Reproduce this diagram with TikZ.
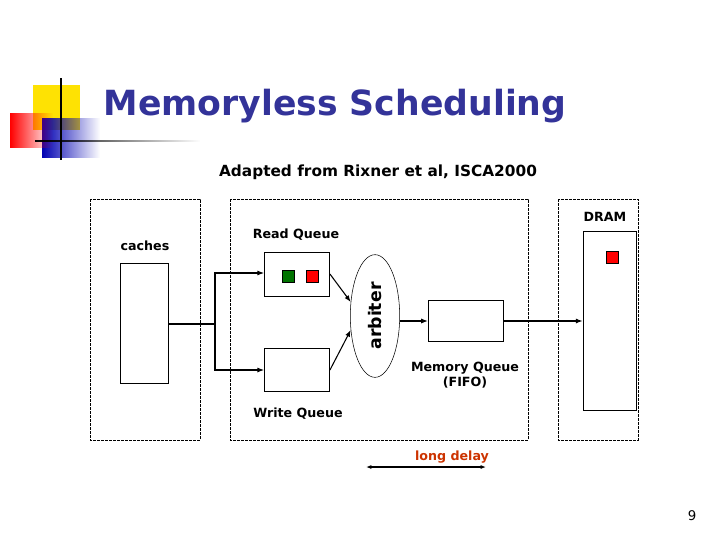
\documentclass[tikz,border=0pt]{standalone}
\usepackage{fontspec}
\setmainfont{DejaVu Sans}
\usetikzlibrary{arrows.meta,shapes.geometric,fadings}
\definecolor{titleblue}{RGB}{51,51,153}
\definecolor{delayred}{RGB}{204,51,0}
\tikzset{>=Latex}
\tikzstyle{frame} = [draw=black, dash pattern=on 2pt off 1pt, semithick]
\tikzstyle{queue} = [rectangle, draw=black, fill=white]
\tikzstyle{label} = [font=\bfseries\fontsize{9.5}{11}\selectfont]
\tikzstyle{entry} = [rectangle, draw=black, minimum size=9pt, inner sep=0pt]
\tikzstyle{arrow} = [thick,->,>={Latex[length=5pt]}]

\begin{document}
\begin{tikzpicture}[x=0.75pt,y=-0.75pt]
\useasboundingbox (0,0) rectangle (720,540);

% logo
\fill[yellow!85!orange] (33,85) rectangle (80,130);
\fill[blue!70!black, path fading=east] (42,118) rectangle (100,158);
\fill[red, path fading=east] (10,113) rectangle (53,148);
\draw[thick] (61,78) -- (61,160);
\draw[thick, path fading=east] (35,141) -- (200,141);

% titles
\node (title) [font=\bfseries\fontsize{26}{30}\selectfont, text=titleblue] at (335,106) {Memoryless Scheduling};
\node (sub) [font=\bfseries\fontsize{11.5}{13}\selectfont] at (378,172) {Adapted from Rixner et al, ISCA2000};

% dashed frames
\draw[frame] (90,199) rectangle (200,440);
\draw[frame] (230,199) rectangle (528,440);
\draw[frame] (558,199) rectangle (638,440);

% caches
\node (cachelabel) [label] at (145,246) {caches};
\node (caches) [queue, minimum width=36pt, minimum height=90pt] at (144.5,323.5) {};

% queues
\node (readlabel) [label] at (296,235) {Read Queue};
\node (read) [queue, minimum width=49pt, minimum height=33pt] at (297,274) {};
\node (green) [entry, fill=green!45!black] at (288,276) {};
\node (red) [entry, fill=red] at (312,276) {};
\node (write) [queue, minimum width=49pt, minimum height=32pt] at (297,369.5) {};
\node (writelabel) [label] at (298,414) {Write Queue};

% arbiter
\node (arbiter) [ellipse, draw=black, minimum width=37pt, minimum height=92pt, inner sep=0pt] at (375,316) {};
\node [rotate=90, font=\bfseries\fontsize{13}{15}\selectfont] at (arbiter) {arbiter};

% memory queue
\node (memq) [queue, minimum width=56pt, minimum height=31pt] at (465.5,321) {};
\node (memlabel) [label, align=center] at (465,375) {Memory Queue\\(FIFO)};

% DRAM
\node (dramlabel) [label] at (605,217) {DRAM};
\node (dram) [queue, minimum width=40pt, minimum height=134pt] at (609.5,320.5) {};
\node (cell) [entry, fill=red] at (612,257) {};

% connectors
\coordinate (split) at (215,324);
\draw[thick] (caches.east |- split) -- (split);
\draw[arrow] (split) |- (read.west |- 0,273);
\draw[arrow] (split) |- (write.west |- 0,370);
\draw[arrow] (read.east |- 0,274) -- (arbiter.150);
\draw[arrow] (write.east |- 0,370) -- (arbiter.210);
\draw[arrow] (arbiter.east |- memq) -- (memq.west);
\draw[arrow] (memq.east) -- (dram.west |- memq);

% delay
\node (delay) [label, text=delayred] at (452,457) {long delay};
\coordinate (d1) at (366,467);
\coordinate (d2) at (486,467);
\draw[thick,<->,>={Latex[length=4pt]}] (d1) -- (d2);

\node (page) [font=\fontsize{10}{12}\selectfont] at (692,516) {9};
\end{tikzpicture}
\end{document}
